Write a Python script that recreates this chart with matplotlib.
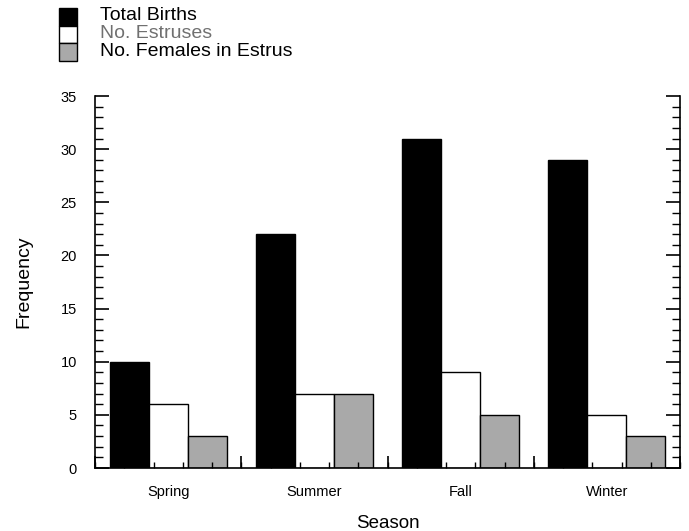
import matplotlib.pyplot as plt
from matplotlib.patches import Rectangle
from matplotlib.ticker import MultipleLocator
import numpy as np

plt.rcParams['font.family'] = ['Liberation Sans', 'DejaVu Sans']

seasons = ['Spring', 'Summer', 'Fall', 'Winter']
total_births = [10, 22, 31, 29]
no_estruses = [6, 7, 9, 5]
females_in_estrus = [3, 7, 5, 3]

series_names = ['Total Births', 'No. Estruses', 'No. Females in Estrus']
series_values = [total_births, no_estruses, females_in_estrus]
fill_colors = ['black', 'white', '#a9a9a9']
text_colors = ['black', '#707070', 'black']

W, H = 689, 531
fig = plt.figure(figsize=(W / 100, H / 100), dpi=100)
ax = fig.add_axes([95 / W, 63 / H, 585 / W, 372 / H])

# three bars per season, centred in each unit-wide slot
x = np.arange(len(seasons)) + 0.5
bw = 0.8 / 3
for i, (vals, fc) in enumerate(zip(series_values, fill_colors)):
    ax.bar(x + (i - 1) * bw, vals, width=bw, color=fc, edgecolor='black',
           linewidth=1.0, zorder=1)

ax.set_xlim(0, 4)
ax.set_ylim(0, 35)

ax.spines['top'].set_visible(False)
for s in ['left', 'right', 'bottom']:
    ax.spines[s].set_linewidth(1.2)

ax.yaxis.set_major_locator(MultipleLocator(5))
ax.yaxis.set_minor_locator(MultipleLocator(1))
ax.tick_params(axis='y', which='major', direction='in', length=10, width=1.2,
               right=True, labelsize=10.5, pad=13)
ax.tick_params(axis='y', which='minor', direction='in', length=6, width=1.0,
               right=True)

# labels at slot centres, short ticks every 0.2, taller ticks at slot edges
ax.set_xticks(x, seasons)
ax.xaxis.set_minor_locator(MultipleLocator(0.2))
ax.tick_params(axis='x', which='major', length=0, labelsize=10.5, pad=12)
ax.tick_params(axis='x', which='minor', direction='in', length=4, width=1.0)
edges = ax.secondary_xaxis('bottom')
edges.set_xticks(np.arange(len(seasons) + 1), [''] * (len(seasons) + 1))
edges.tick_params(direction='in', length=9, width=1.2)
edges.spines['bottom'].set_visible(False)

ax.set_xlabel('Season', fontsize=13.5, labelpad=12)
ax.set_ylabel('Frequency', fontsize=14, labelpad=20)

# legend block in the top-left corner
for i, (name, fc, tc) in enumerate(zip(series_names, fill_colors, text_colors)):
    top = 8 + i * 17.7
    fig.add_artist(Rectangle((59 / W, 1 - (top + 17.7) / H), 18 / W, 17.7 / H,
                             transform=fig.transFigure, facecolor=fc,
                             edgecolor='black', linewidth=1.0))
    fig.text(100 / W, 1 - (top + 8) / H, name, fontsize=14, color=tc,
             va='center', ha='left')

fig.savefig('out.png', dpi=100)
